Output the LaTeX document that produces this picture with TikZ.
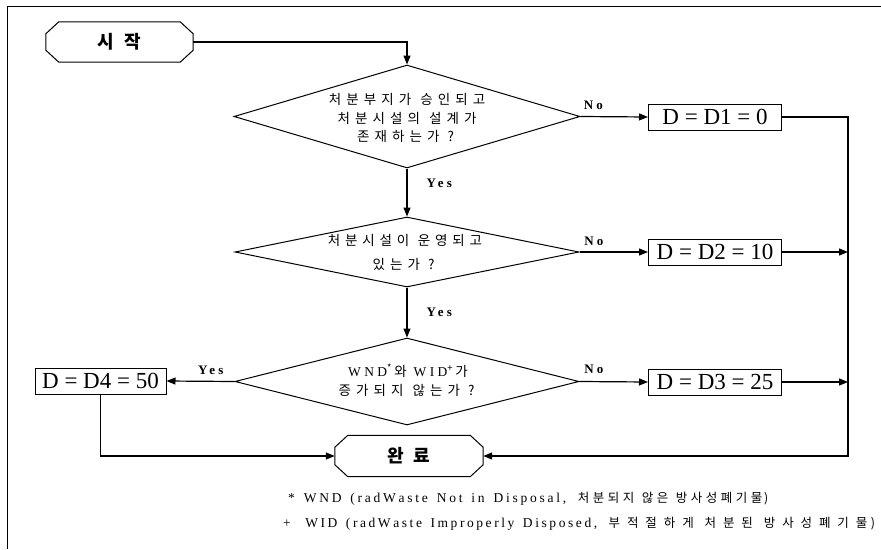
\documentclass[tikz,border=0pt]{standalone}
\usepackage{fontspec}
\setmainfont{Liberation Serif}
\newfontfamily\kr{Noto Sans CJK KR}
\newfontfamily\serq[LetterSpace=25]{Liberation Serif}
\usetikzlibrary{shapes.geometric,arrows.meta,calc}

% a line of text spread to a given width
\newcommand\spr[2]{\makebox[#1][s]{#2}}
% Latin letter spacing: equal stretchable gaps between characters, ~ marks a word gap
\def\trl#1{\trlfirst#1\relax}
\def\trlfirst#1{#1\trlaux}
\def\trlaux#1{\ifx\relax#1\else\hskip 0pt plus 1fil\relax#1\expandafter\trlaux\fi}
% Hangul on a fixed pitch: \trk{pitch}{text}, ~ marks a word gap
\newlength\trkp
\newlength\trkgap
\setlength\trkgap{4pt}
\newcommand\trk[2]{\setlength\trkp{#1}\trkaux#2\relax}
\def\trkaux#1{\ifx\relax#1\else\trkone#1\expandafter\trkaux\fi}
\def\trkone#1{\ifx~#1\hspace{\trkgap}\else\makebox[\trkp]{#1}\fi}

\tikzset{
  flow/.style={line width=1.2pt},
  arr/.style={flow,-{Triangle[length=9pt,width=7pt]}},
  term/.style={minimum width=147pt, minimum height=40pt, inner sep=0pt,
    font=\kr\bfseries\fontsize{18}{20}\selectfont},
  dec/.style={diamond, draw, line width=1pt, inner sep=0pt},
  qtext/.style={align=center, inner sep=0pt,
    font=\kr\fontsize{13.5}{18.5}\selectfont},
  valbox/.style={draw, line width=1pt, minimum width=133pt, minimum height=26pt,
    inner sep=0pt, font=\fontsize{23}{26}\selectfont},
  lab/.style={font=\serq\bfseries\fontsize{13}{15}\selectfont, inner sep=0pt},
  note/.style={anchor=west, inner sep=0pt, font=\fontsize{13.5}{16}\selectfont},
}
% outline of a terminal: rectangle with cut corners
\newcommand\chamferbox[1]{%
  \draw[line width=1pt]
    ([xshift=13pt]#1.north west) -- ([xshift=-13pt]#1.north east)
    -- ([yshift=-12pt]#1.north east) -- ([yshift=12pt]#1.south east)
    -- ([xshift=-13pt]#1.south east) -- ([xshift=13pt]#1.south west)
    -- ([yshift=12pt]#1.south west) -- ([yshift=-12pt]#1.north west) -- cycle;}

\begin{document}
\begin{tikzpicture}[x=1pt,y=-1pt]
\useasboundingbox (0,0) rectangle (881,549);
\draw[line width=1pt] (7,549) -- (7,6) -- (881,6);

% terminals
\node[term] (start) at (119.5,42) {시\hspace{11pt}작};
\chamferbox{start}
\node[term, minimum width=148pt, minimum height=41pt] (end) at (409,456) {완\hspace{9pt}료};
\chamferbox{end}

% decisions
\node[dec, minimum width=346pt, minimum height=103pt] (q1) at (407,116.5) {};
\node[qtext] (t1) at (407,118) {%
  \trk{17.5pt}{처분부지가~승인되고}\\
  \trk{17.5pt}{처분시설의~설계가}\\
  \trk{17.5pt}{존재하는가?}};
\node[dec, minimum width=344pt, minimum height=70pt] (q2) at (407,252) {};
\node[qtext, font=\kr\fontsize{13.5}{24}\selectfont] (t2) at (405,252) {%
  \trk{17.2pt}{처분시설이~운영되고}\\
  \trk{17.5pt}{있는가?}};
\node[dec, minimum width=344pt, minimum height=87pt] (q3) at (407,381.5) {};
\node[qtext] (t3) at (408,380) {%
  {\serq WND}\textsuperscript{*}\,와\hspace{7pt}{\serq WID}\textsuperscript{+}\,가\\
  \trk{17.5pt}{증가되지~않는가?}};

% values
\node[valbox] (d1) at (715,117) {D = D1 = 0};
\node[valbox] (d2) at (715,252) {D = D2 = 10};
\node[valbox] (d3) at (715,382) {D = D3 = 25};
\node[valbox, minimum width=131pt] (d4) at (100.5,381) {D = D4 = 50};
\coordinate (rail) at (848,0);

% connectors
\draw[arr] (start.east) -| (q1.north);
\draw[arr] (q1.south) -- node[lab, pos=0.3, right=19pt] {Yes} (q2.north);
\draw[arr] (q2.south) -- node[lab, pos=0.49, right=19pt] {Yes} (q3.north);
\draw[arr] (q1.east) -- node[lab, pos=0.19, above=6pt] {No} (d1.west);
\draw[arr] (q2.east) -- node[lab, pos=0.21, above=6pt] {No} (d2.west);
\draw[arr] (q3.east) -- node[lab, pos=0.21, above=7pt] {No} (d3.west);
\draw[arr] (q3.west) -- node[lab, pos=0.35, above=6pt] {Yes} (d4.east);
\draw[arr] (d4.south) |- (end.west);
\draw[arr] (d1.east) -- (d1.east -| rail) |- (end.east);
\draw[arr] (d2.east) -- (d2.east -| rail);
\draw[arr] (d3.east) -- (d3.east -| rail);

% footnotes
\node[note] (n1) at (288,499) {%
  \spr{278pt}{\trl{*~WND~(radWaste~Not~in~Disposal,}}\hspace{10pt}%
  {\kr\fontsize{12.5}{15}\selectfont\trk{15pt}{처분되지~않은~방사성폐기물})}};
\node[note] (n2) at (283,524) {%
  \spr{314pt}{\trl{+~~WID~(radWaste~Improperly~Disposed,}}\hspace{8pt}%
  {\kr\fontsize{12.5}{15}\selectfont\trk{18.4pt}{부적절하게~처분된~방사성폐기물})}};
\end{tikzpicture}
\end{document}
